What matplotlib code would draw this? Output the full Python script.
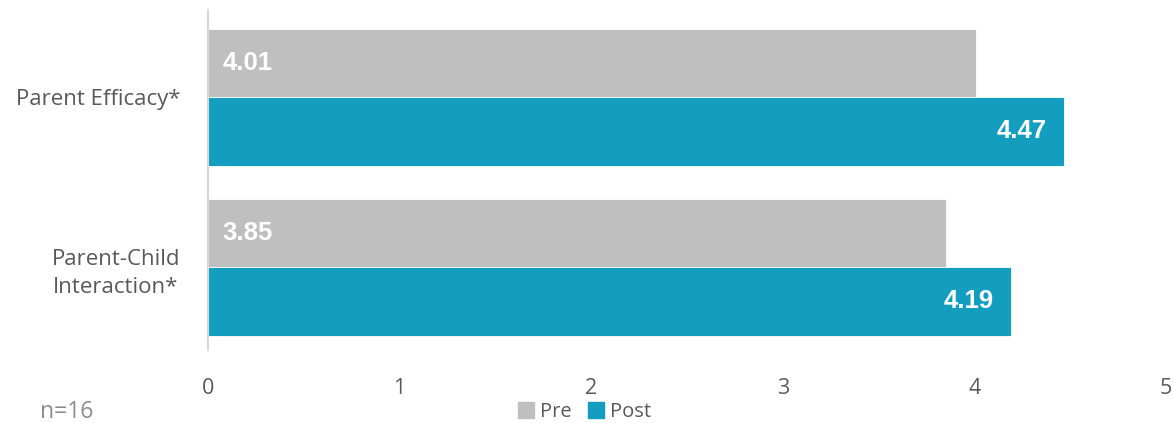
import matplotlib.pyplot as plt
import numpy as np
from matplotlib.patches import Patch

# Dados
categorias = ["Parent Efficacy*", "Parent-Child\nInteraction*"]
pre = [4.01, 3.85]
post = [4.47, 4.19]
ticks_x = [0, 1, 2, 3, 4, 5]

cor_pre = "#BFBFBF"
cor_post = "#139DBF"
cor_texto = "#595959"
fonte = ["Open Sans", "DejaVu Sans"]

fig = plt.figure(figsize=(11.74, 4.23), dpi=100)
ax = fig.add_axes([0.1772, 0.1726, 0.8160, 0.8038])

y = np.arange(len(categorias))
h = 0.403

barras_pre = ax.barh(y - h / 2, pre, height=h, color=cor_pre, edgecolor="white", linewidth=0.6)
barras_post = ax.barh(y + h / 2, post, height=h, color=cor_post, edgecolor="white", linewidth=0.6)

# Rótulos dos valores: Pre na base, Post no fim da barra
for b, v in zip(barras_pre, pre):
    ax.text(0.075, b.get_y() + b.get_height() / 2, f"{v:.2f}", ha="left", va="center",
            color="white", fontsize=18.5, fontweight="bold", family="Liberation Sans")
for b, v in zip(barras_post, post):
    ax.text(v - 0.09, b.get_y() + b.get_height() / 2, f"{v:.2f}", ha="right", va="center",
            color="white", fontsize=18.5, fontweight="bold", family="Liberation Sans")

ax.set_xlim(0, 5)
ax.set_ylim(1.488, -0.512)
ax.set_xticks(ticks_x)
ax.set_xticklabels([str(t) for t in ticks_x], fontsize=15.5, color=cor_texto, family=fonte)
ax.set_yticks(y)
ax.set_yticklabels(categorias, fontsize=16, color=cor_texto, family=fonte, linespacing=1.45,
                   multialignment="center")
ax.tick_params(axis="both", length=0)
ax.tick_params(axis="x", pad=20)
ax.tick_params(axis="y", pad=20)

for lado in ["top", "right", "bottom"]:
    ax.spines[lado].set_visible(False)
ax.spines["left"].set_color("#D9D9D9")
ax.spines["left"].set_linewidth(1.5)

# Legenda
handles = [Patch(color=cor_pre, label="Pre"), Patch(color=cor_post, label="Post")]
fig.legend(handles=handles, loc="center", bbox_to_anchor=(0.498, 0.026), ncol=2, frameon=False,
           prop={"family": fonte, "size": 14.5}, labelcolor=cor_texto, handlelength=0.8,
           handleheight=0.8, handletextpad=0.3, columnspacing=0.8)

fig.text(0.034, 0.026, "n=16", fontsize=16.5, color="#8C8C8C", family=fonte, va="center")

fig.savefig("out.png", dpi=100)
